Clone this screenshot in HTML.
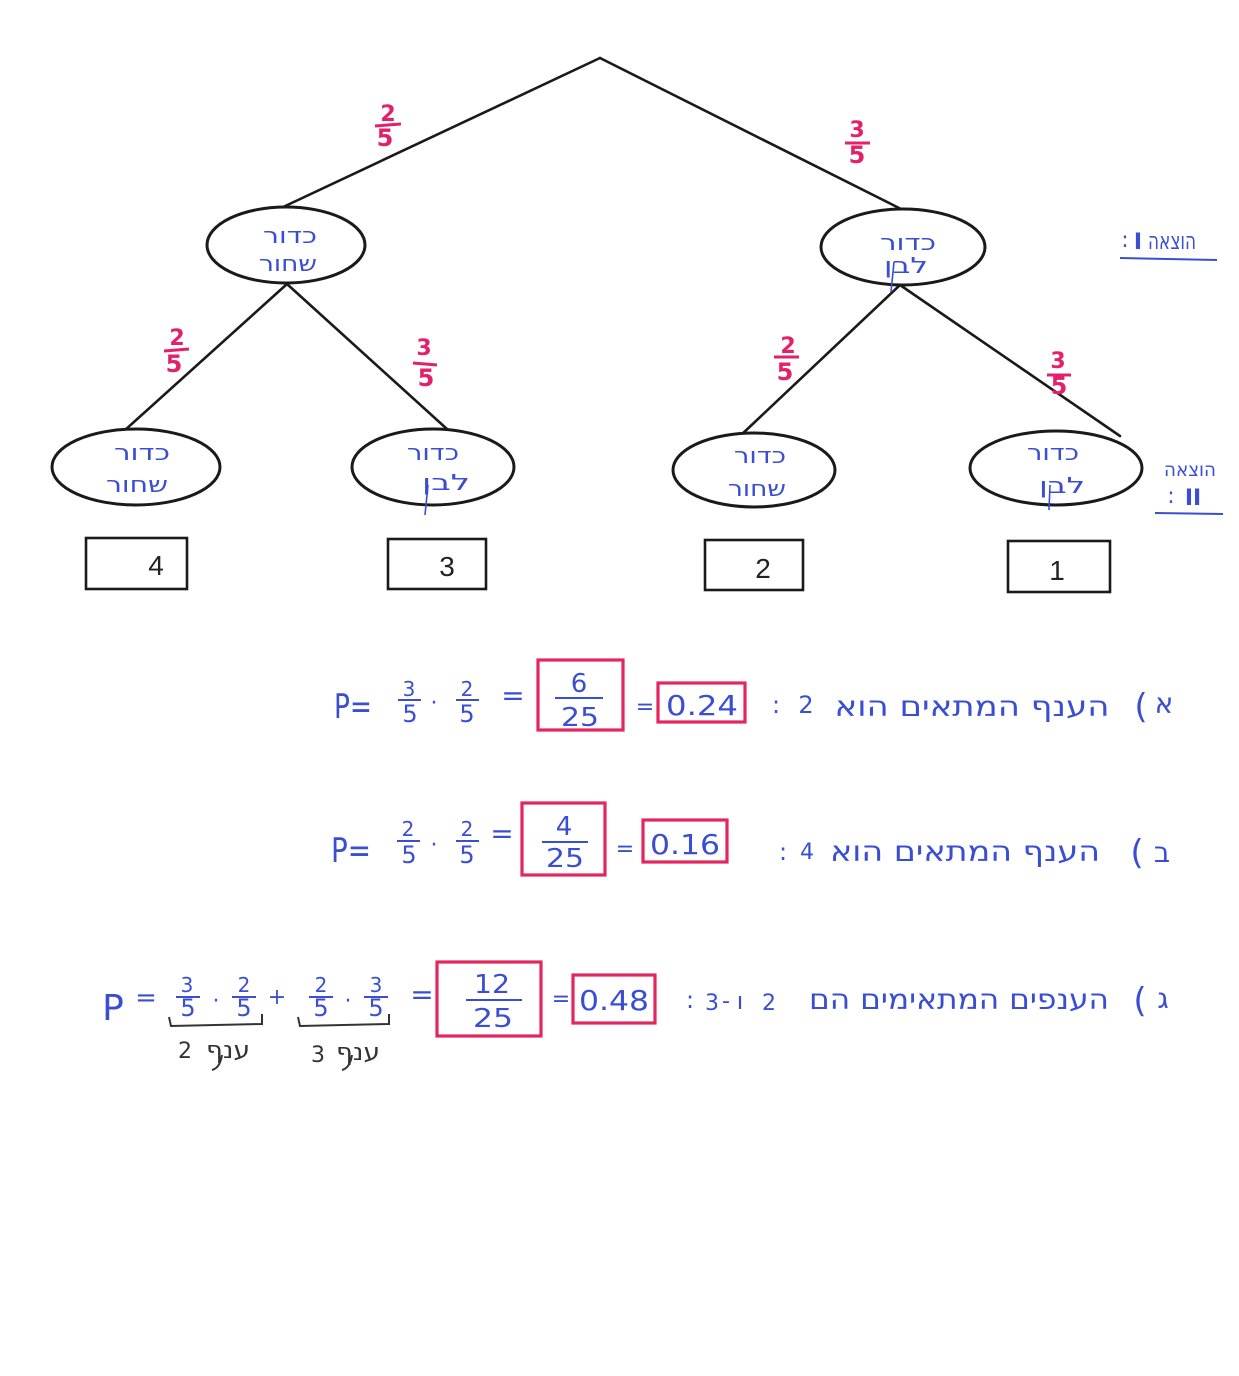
<!DOCTYPE html>
<html><head><meta charset="utf-8"><style>
html,body{margin:0;padding:0;background:#fff;}
svg{display:block;}
text{font-family:"DejaVu Sans","Liberation Sans",sans-serif;}
.b{fill:#3a4ed2;}
.m{fill:#e3206a;font-family:"Liberation Sans",sans-serif;font-weight:bold;}
.n{fill:#3a4ed2;font-family:"Liberation Sans",sans-serif;}
</style></head><body>
<svg width="1239" height="1376" viewBox="0 0 1239 1376" xmlns="http://www.w3.org/2000/svg">
<rect width="1239" height="1376" fill="#fff"/>
<!-- tree lines -->
<g stroke="#1a1a1a" stroke-width="2.6" fill="none" stroke-linecap="round">
<line x1="600" y1="58" x2="281" y2="208"/>
<line x1="600" y1="58" x2="905" y2="211"/>
<line x1="287" y1="284" x2="124" y2="431"/>
<line x1="287" y1="284" x2="458" y2="439"/>
<line x1="900" y1="285" x2="740" y2="436"/>
<line x1="900" y1="285" x2="1120" y2="436"/>
</g>
<!-- ellipses -->
<g stroke="#1a1a1a" stroke-width="3" fill="#fff">
<ellipse cx="286" cy="245" rx="79" ry="38"/>
<ellipse cx="903" cy="247" rx="82" ry="38"/>
<ellipse cx="136" cy="467" rx="84" ry="38"/>
<ellipse cx="433" cy="467" rx="81" ry="38"/>
<ellipse cx="754" cy="470" rx="81" ry="37"/>
<ellipse cx="1056" cy="468" rx="86" ry="37"/>
</g>
<!-- ellipse labels -->
<g class="b" font-size="22" text-anchor="middle">
<text x="290" y="243" textLength="54" lengthAdjust="spacingAndGlyphs">כדור</text>
<text x="288" y="271" textLength="58" lengthAdjust="spacingAndGlyphs">שחור</text>
<text x="908" y="250" textLength="56" lengthAdjust="spacingAndGlyphs">כדור</text>
<text x="906" y="273" textLength="44" lengthAdjust="spacingAndGlyphs">לבן</text>
<text x="142" y="460" textLength="56" lengthAdjust="spacingAndGlyphs">כדור</text>
<text x="137" y="492" textLength="62" lengthAdjust="spacingAndGlyphs">שחור</text>
<text x="433" y="460" textLength="52" lengthAdjust="spacingAndGlyphs">כדור</text>
<text x="446" y="490" textLength="48" lengthAdjust="spacingAndGlyphs">לבן</text>
<text x="760" y="463" textLength="52" lengthAdjust="spacingAndGlyphs">כדור</text>
<text x="757" y="496" textLength="58" lengthAdjust="spacingAndGlyphs">שחור</text>
<text x="1053" y="460" textLength="52" lengthAdjust="spacingAndGlyphs">כדור</text>
<text x="1062" y="493" textLength="46" lengthAdjust="spacingAndGlyphs">לבן</text>
</g>
<g stroke="#3a4ed2" stroke-width="1.6" fill="none">
<line x1="894" y1="262" x2="891" y2="292"/>
<line x1="428" y1="485" x2="425" y2="515"/>
<line x1="1050" y1="485" x2="1049" y2="510"/>
</g>
<!-- branch fractions -->
<g class="m" font-size="22" text-anchor="middle">
<text x="388" y="121">2</text><text x="385" y="146" font-size="24">5</text>
<text x="857" y="137">3</text><text x="857" y="163" font-size="24">5</text>
<text x="177" y="345">2</text><text x="174" y="372" font-size="24">5</text>
<text x="424" y="355">3</text><text x="426" y="386" font-size="24">5</text>
<text x="788" y="353">2</text><text x="785" y="380" font-size="24">5</text>
<text x="1058" y="368">3</text><text x="1059" y="394" font-size="24">5</text>
</g>
<g stroke="#e3206a" stroke-width="3">
<line x1="375" y1="126" x2="401" y2="124"/>
<line x1="845" y1="143" x2="870" y2="143"/>
<line x1="164" y1="351" x2="189" y2="349"/>
<line x1="413" y1="363" x2="437" y2="365"/>
<line x1="774" y1="357" x2="799" y2="357"/>
<line x1="1047" y1="375" x2="1071" y2="375"/>
</g>
<!-- level labels -->
<g class="b">
<text x="1172" y="249" font-size="24" text-anchor="middle" textLength="48" lengthAdjust="spacingAndGlyphs">הוצאה</text>
<text x="1138" y="249" font-size="22" font-family="Liberation Serif" text-anchor="middle" font-weight="bold">I</text>
<text x="1125" y="247" font-size="22" text-anchor="middle">:</text>
<text x="1190" y="476" font-size="19" text-anchor="middle" textLength="52" lengthAdjust="spacingAndGlyphs">הוצאה</text>
<text x="1193" y="505" font-size="22" font-family="Liberation Serif" text-anchor="middle" font-weight="bold">II</text>
<text x="1171" y="503" font-size="22" text-anchor="middle">:</text>
</g>
<g stroke="#3a4ed2" stroke-width="2">
<line x1="1120" y1="258" x2="1217" y2="260"/>
<line x1="1155" y1="513" x2="1223" y2="514"/>
</g>
<!-- result boxes -->
<g stroke="#1a1a1a" stroke-width="2.6" fill="none">
<rect x="86" y="538" width="101" height="51"/>
<rect x="388" y="539" width="98" height="50"/>
<rect x="705" y="540" width="98" height="50"/>
<rect x="1008" y="541" width="102" height="51"/>
</g>
<g fill="#222" font-size="28" text-anchor="middle" font-family="Liberation Sans">
<text x="156" y="575" style="font-family:'Liberation Sans'">4</text>
<text x="447" y="576" style="font-family:'Liberation Sans'">3</text>
<text x="763" y="578" style="font-family:'Liberation Sans'">2</text>
<text x="1057" y="580" style="font-family:'Liberation Sans'">1</text>
</g>

<!-- red boxes -->
<g stroke="#e2265f" stroke-width="3.2" fill="none">
<rect x="538" y="660" width="85" height="70"/>
<rect x="658" y="683" width="87" height="39"/>
<rect x="522" y="803" width="83" height="72"/>
<rect x="643" y="820" width="84" height="42"/>
<rect x="437" y="962" width="104" height="74"/>
<rect x="573" y="975" width="82" height="48"/>
</g>

<!-- equation a -->
<g class="n" text-anchor="middle">
<text x="353" y="718" font-size="34" textLength="38" lengthAdjust="spacingAndGlyphs">P=</text>
<text x="409" y="696" font-size="20">3</text>
<text x="410" y="722" font-size="24">5</text>
<text x="434" y="710" font-size="22">·</text>
<text x="467" y="696" font-size="20">2</text>
<text x="467" y="722" font-size="24">5</text>
<text x="513" y="705" font-size="28">=</text>
<text x="579" y="692" font-size="26">6</text>
<text x="580" y="726" font-size="26" textLength="38" lengthAdjust="spacingAndGlyphs">25</text>
<text x="645" y="714" font-size="22">=</text>
<text x="702" y="715" font-size="28" textLength="72" lengthAdjust="spacingAndGlyphs">0.24</text>
</g>
<g stroke="#3a4ed2" stroke-width="2">
<line x1="398" y1="700" x2="421" y2="700"/>
<line x1="456" y1="700" x2="479" y2="700"/>
<line x1="555" y1="698" x2="603" y2="698"/>
</g>
<g class="b" text-anchor="middle">
<text x="776" y="713" font-size="24">:</text>
<text x="806" y="713" font-size="24" font-family="Liberation Sans">2</text>
<text x="972" y="716" font-size="28" textLength="275" lengthAdjust="spacingAndGlyphs">הענף המתאים הוא</text>
<text x="1141" y="718" font-size="34">(</text>
<text x="1164" y="713" font-size="28">א</text>
</g>

<!-- equation b -->
<g class="n" text-anchor="middle">
<text x="351" y="862" font-size="34" textLength="40" lengthAdjust="spacingAndGlyphs">P=</text>
<text x="408" y="836" font-size="20">2</text>
<text x="409" y="863" font-size="24">5</text>
<text x="434" y="852" font-size="22">·</text>
<text x="467" y="836" font-size="20">2</text>
<text x="467" y="863" font-size="24">5</text>
<text x="502" y="843" font-size="28">=</text>
<text x="564" y="835" font-size="26">4</text>
<text x="565" y="867" font-size="26" textLength="38" lengthAdjust="spacingAndGlyphs">25</text>
<text x="625" y="856" font-size="22">=</text>
<text x="685" y="854" font-size="28" textLength="70" lengthAdjust="spacingAndGlyphs">0.16</text>
</g>
<g stroke="#3a4ed2" stroke-width="2">
<line x1="397" y1="841" x2="420" y2="841"/>
<line x1="456" y1="841" x2="479" y2="841"/>
<line x1="542" y1="842" x2="588" y2="842"/>
</g>
<g class="b" text-anchor="middle">
<text x="783" y="860" font-size="24">:</text>
<text x="807" y="859" font-size="22" font-family="Liberation Sans">4</text>
<text x="965" y="861" font-size="28" textLength="270" lengthAdjust="spacingAndGlyphs">הענף המתאים הוא</text>
<text x="1137" y="864" font-size="34">(</text>
<text x="1162" y="862" font-size="28">ב</text>
</g>

<!-- equation c -->
<g class="n" text-anchor="middle">
<text x="113" y="1020" font-size="36">P</text>
<text x="146" y="1006" font-size="26">=</text>
<text x="187" y="992" font-size="20">3</text>
<text x="188" y="1016" font-size="24">5</text>
<text x="216" y="1008" font-size="22">·</text>
<text x="244" y="992" font-size="20">2</text>
<text x="244" y="1016" font-size="24">5</text>
<text x="277" y="1004" font-size="22">+</text>
<text x="321" y="992" font-size="20">2</text>
<text x="321" y="1016" font-size="24">5</text>
<text x="348" y="1008" font-size="22">·</text>
<text x="376" y="992" font-size="20">3</text>
<text x="376" y="1016" font-size="24">5</text>
<text x="422" y="1004" font-size="28">=</text>
<text x="492" y="993" font-size="26" textLength="36" lengthAdjust="spacingAndGlyphs">12</text>
<text x="493" y="1027" font-size="26" textLength="40" lengthAdjust="spacingAndGlyphs">25</text>
<text x="561" y="1006" font-size="22">=</text>
<text x="614" y="1010" font-size="28" textLength="70" lengthAdjust="spacingAndGlyphs">0.48</text>
</g>
<g stroke="#3a4ed2" stroke-width="2">
<line x1="176" y1="997" x2="200" y2="997"/>
<line x1="232" y1="997" x2="256" y2="997"/>
<line x1="309" y1="997" x2="333" y2="997"/>
<line x1="364" y1="997" x2="388" y2="997"/>
<line x1="466" y1="1000" x2="522" y2="1000"/>
</g>
<g stroke="#333" stroke-width="2" fill="none">
<path d="M169 1017 L171 1026 L262 1024 L262 1014"/>
<path d="M298 1017 L300 1026 L389 1024 L389 1014"/>
<path d="M222 1055 Q220 1068 212 1070"/>
<path d="M352 1055 Q350 1068 342 1070"/>
</g>
<g fill="#333" text-anchor="middle">
<text x="185" y="1058" font-size="22" font-family="Liberation Sans">2</text>
<text x="228" y="1058" font-size="24" textLength="44" lengthAdjust="spacingAndGlyphs">ענף</text>
<text x="318" y="1062" font-size="22" font-family="Liberation Sans">3</text>
<text x="358" y="1060" font-size="24" textLength="44" lengthAdjust="spacingAndGlyphs">ענף</text>
</g>
<g class="b" text-anchor="middle">
<text x="690" y="1008" font-size="24">:</text>
<text x="712" y="1010" font-size="22" font-family="Liberation Sans">3</text>
<text x="726" y="1008" font-size="22" font-family="Liberation Sans">-</text>
<text x="740" y="1009" font-size="24">ו</text>
<text x="769" y="1010" font-size="22" font-family="Liberation Sans">2</text>
<text x="959" y="1009" font-size="28" textLength="300" lengthAdjust="spacingAndGlyphs">הענפים המתאימים הם</text>
<text x="1140" y="1012" font-size="34">(</text>
<text x="1163" y="1008" font-size="28">ג</text>
</g>
</svg>
</body></html>
